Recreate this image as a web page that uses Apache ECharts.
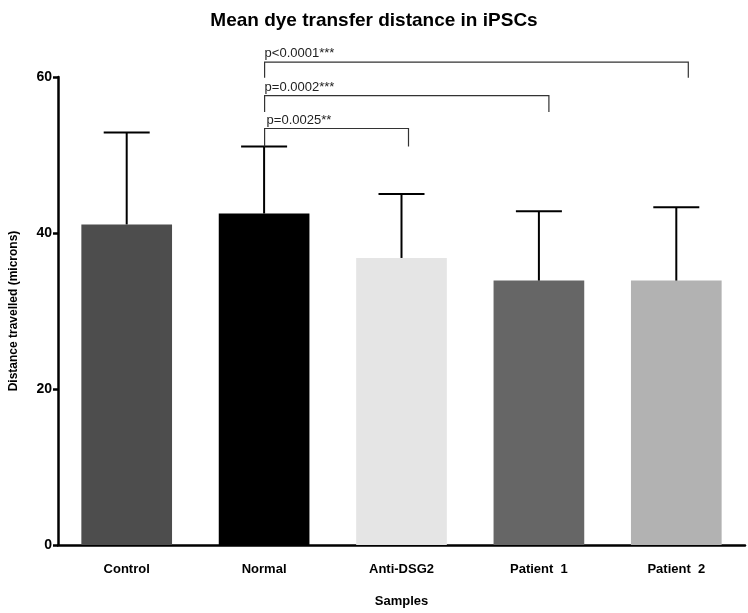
<!DOCTYPE html>
<html>
<head>
<meta charset="utf-8">
<script src="https://cdn.jsdelivr.net/npm/echarts@6/dist/echarts.min.js"></script>
<style>
html,body{margin:0;padding:0;background:#fff;}
#chart{width:748px;height:613px;}
</style>
</head>
<body>
<div id="chart"></div>
<script>
var categories = ['Control', 'Normal', 'Anti-DSG2', 'Patient  1', 'Patient  2'];
var means = [41.1, 42.5, 36.8, 33.9, 33.9];
var upperErrors = [52.9, 51.1, 45.0, 42.8, 43.3];
var barColors = ['#4d4d4d', '#000000', '#e5e5e5', '#666666', '#b2b2b2'];
var yTicks = [0, 20, 40, 60];
// comparisons: from category index, to category index, bracket level, leg bottom level, label
var compFrom = [1, 1, 1];
var compTo = [4, 3, 2];
var compLine = [61.9, 57.6, 53.4];
var compLegEnd = [59.9, 55.5, 51.1];
var compLabels = ['p<0.0001***', 'p=0.0002***', 'p=0.0025**'];

var FONT = '"Liberation Sans", Arial, sans-serif';
var rightLegShift = [12, 10, 7];

var chart = echarts.init(document.getElementById('chart'), null, {renderer: 'canvas'});

var errData = categories.map(function (c, i) { return [i, means[i], upperErrors[i]]; });
var compData = compFrom.map(function (f, i) { return [f, compTo[i], compLine[i], compLegEnd[i], i]; });

chart.setOption({
  animation: false,
  backgroundColor: '#ffffff',
  title: {
    text: 'Mean dye transfer distance in iPSCs',
    left: 'center',
    top: 6,
    textStyle: {fontFamily: FONT, fontSize: 19, fontWeight: 'bold', color: '#000'}
  },
  grid: {left: 54, right: 3, top: 77, bottom: 65, containLabel: false},
  xAxis: {
    type: 'category',
    data: categories,
    name: 'Samples',
    nameLocation: 'middle',
    nameGap: 50,
    nameTextStyle: {fontFamily: FONT, fontSize: 13, fontWeight: 'bold', color: '#000'},
    axisLine: {lineStyle: {color: '#000', width: 2.5}},
    axisTick: {alignWithLabel: true, length: 5, lineStyle: {color: '#000', width: 2.5}},
    axisLabel: {fontFamily: FONT, fontSize: 13, fontWeight: 'bold', color: '#000', margin: 18}
  },
  yAxis: {
    type: 'value',
    min: 0,
    max: 60,
    interval: 20,
    name: 'Distance travelled (microns)',
    nameLocation: 'middle',
    nameGap: 38,
    nameTextStyle: {fontFamily: FONT, fontSize: 12, fontWeight: 'bold', color: '#000'},
    axisLine: {show: true, lineStyle: {color: '#000', width: 2.5}},
    axisTick: {show: true, length: 5, lineStyle: {color: '#000', width: 2.5}},
    axisLabel: {fontFamily: FONT, fontSize: 14, fontWeight: 'bold', color: '#000', margin: 6,
      formatter: function (v) { return yTicks.indexOf(v) >= 0 ? String(v) : ''; }},
    splitLine: {show: false}
  },
  series: [
    {
      type: 'bar',
      barCategoryGap: '34%',
      data: means.map(function (v, i) { return {value: v, itemStyle: {color: barColors[i]}}; }),
      z: 2
    },
    {
      type: 'custom',
      data: errData,
      z: 3,
      renderItem: function (params, api) {
        var base = api.coord([api.value(0), api.value(1)]);
        var top = api.coord([api.value(0), api.value(2)]);
        var hw = 23;
        return {
          type: 'group',
          children: [
            {type: 'line', shape: {x1: base[0], y1: base[1], x2: top[0], y2: top[1]}, style: {stroke: '#000', lineWidth: 2}},
            {type: 'line', shape: {x1: top[0] - hw, y1: top[1], x2: top[0] + hw, y2: top[1]}, style: {stroke: '#000', lineWidth: 2}}
          ]
        };
      }
    },
    {
      type: 'custom',
      data: compData,
      z: 4,
      renderItem: function (params, api) {
        var idx = api.value(4);
        var a = api.coord([api.value(0), api.value(2)]);
        var b = api.coord([api.value(1), api.value(2)]);
        var legEnd = api.coord([api.value(0), api.value(3)]);
        var x1 = a[0] + 0.5;
        var x2 = b[0] + rightLegShift[idx];
        var y = a[1];
        var yb = legEnd[1];
        return {
          type: 'group',
          children: [
            {type: 'polyline', shape: {points: [[x1, yb], [x1, y], [x2, y], [x2, yb]]}, style: {stroke: '#333', lineWidth: 1.2, fill: null}},
            {type: 'text', style: {text: compLabels[idx], x: x1 + (idx === 2 ? 2 : 0), y: y - 2, textAlign: 'left', textVerticalAlign: 'bottom', fontFamily: FONT, fontSize: 13, fill: '#222'}}
          ]
        };
      }
    }
  ]
});
</script>
</body>
</html>
